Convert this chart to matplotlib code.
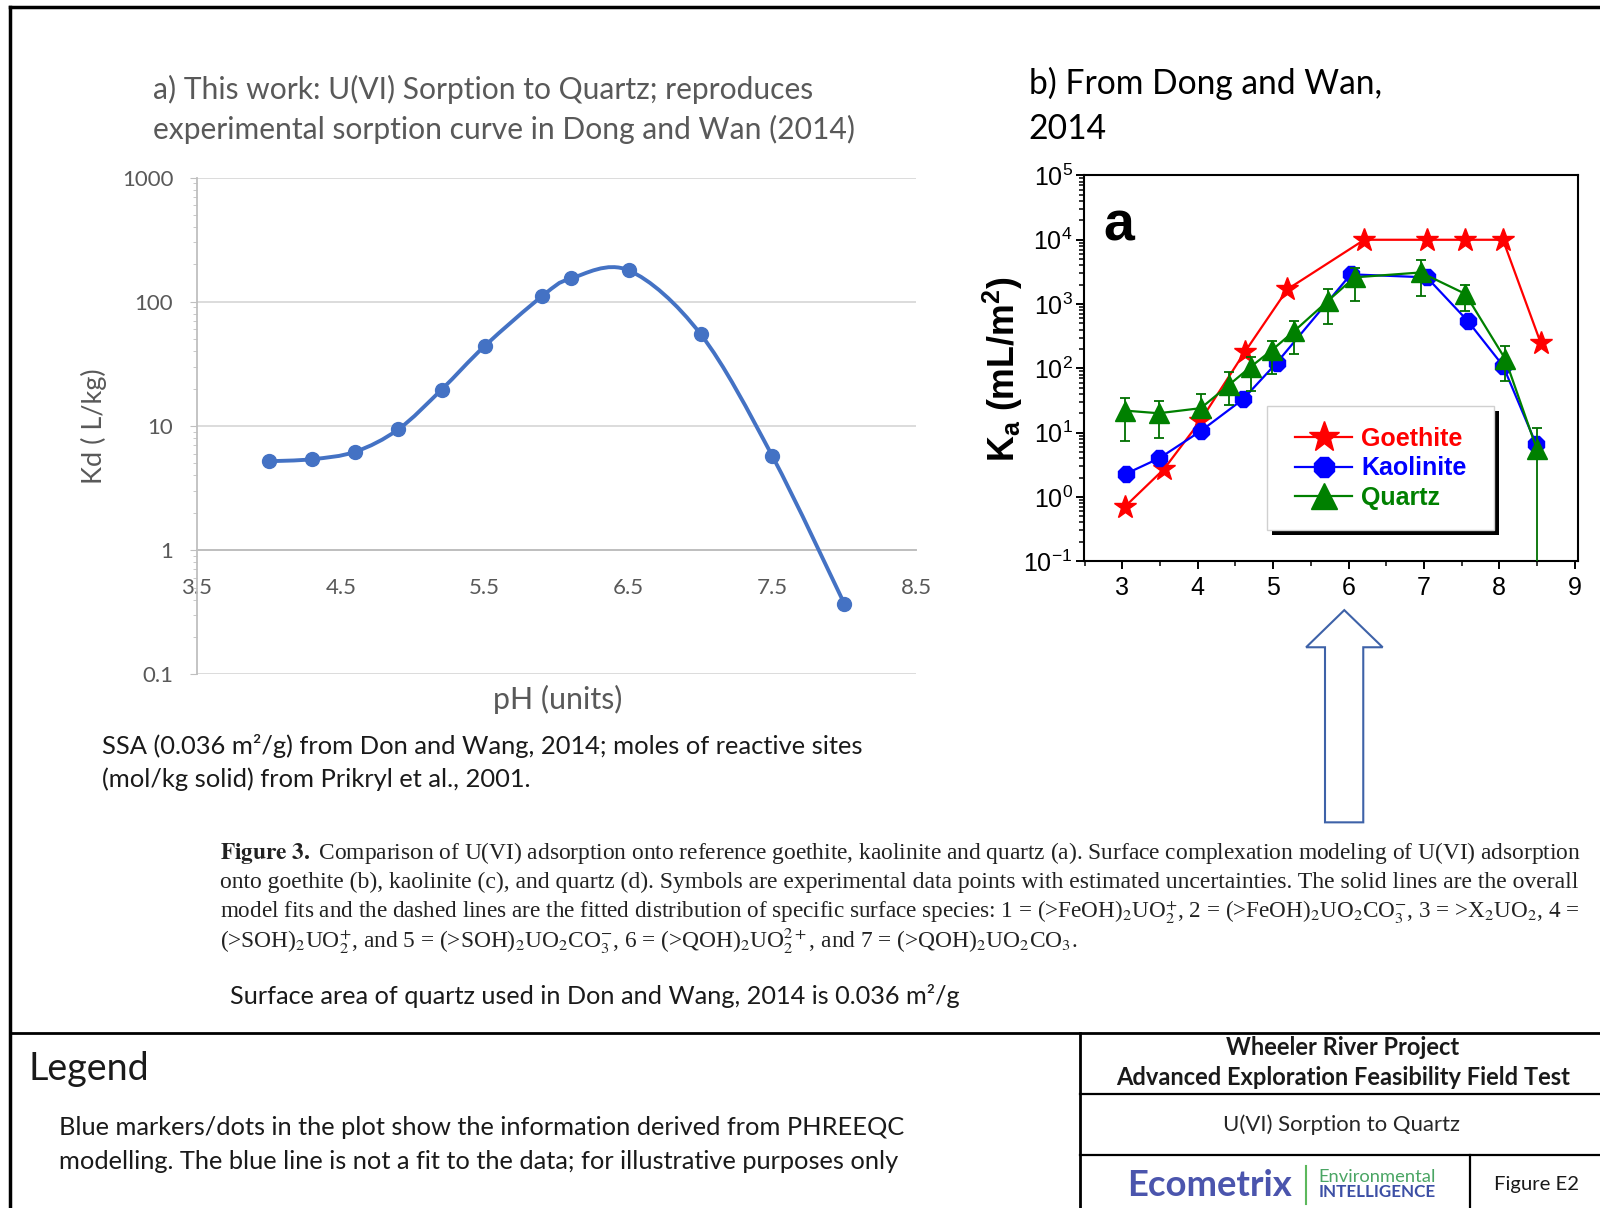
import numpy as np
import matplotlib
matplotlib.use("Agg")
import matplotlib.pyplot as plt
from matplotlib.patches import Polygon, Rectangle, PathPatch
from matplotlib.path import Path
from matplotlib.lines import Line2D
import matplotlib.ticker as mticker

plt.rcParams['mathtext.fontset'] = 'custom'
plt.rcParams['mathtext.rm'] = 'Liberation Sans'
plt.rcParams['mathtext.it'] = 'Liberation Sans:italic'
plt.rcParams['mathtext.bf'] = 'Liberation Sans:bold'

# ---------------- data ----------------
# panel a : PHREEQC model results (this work)
ph_model = [4.0, 4.3, 4.6, 4.9, 5.2, 5.5, 5.9, 6.1, 6.5, 7.0, 7.5, 8.0]
kd_model = [5.2, 5.4, 6.2, 9.4, 19.6, 44, 111, 154, 179, 55, 5.7, 0.37]
a_xticks = [3.5, 4.5, 5.5, 6.5, 7.5, 8.5]
a_xticklabels = ['3.5', '4.5', '5.5', '6.5', '7.5', '8.5']
a_yticks = [0.1, 1, 10, 100, 1000]
a_yticklabels = ['0.1', '1', '10', '100', '1000']

# panel b : Dong and Wan (2014)
ph_goe = [3.03, 3.55, 4.03, 4.62, 5.19, 6.21, 7.04, 7.55, 8.05, 8.55]
ka_goe = [0.7, 2.7, 15, 177, 1700, 1.0e4, 1.0e4, 1.0e4, 1.0e4, 250]
ph_kao = [3.05, 3.49, 4.04, 4.60, 5.05, 6.03, 7.04, 7.58, 8.05, 8.49]
ka_kao = [2.3, 4.0, 10.6, 33, 123, 2900, 2600, 550, 110, 6.6]
ph_qtz = [3.03, 3.48, 4.04, 4.42, 4.70, 4.99, 5.28, 5.73, 6.08, 6.96, 7.55, 8.08, 8.50]
ka_qtz = [22, 20, 24, 56, 105, 195, 380, 1130, 2600, 3100, 1440, 140, 5.5]
qtz_hi = [35, 31, 40, 87, 148, 270, 550, 1700, 3700, 4800, 2000, 225, 12]
qtz_lo = [7.4, 8.3, 17, 27, 45, 81, 165, 490, 1120, 1350, 790, 64, 1e-3]
b_xticks = [3, 4, 5, 6, 7, 8, 9]
b_yticks = [1e-1, 1e0, 1e1, 1e2, 1e3, 1e4, 1e5]
legend_labels = ['Goethite', 'Kaolinite', 'Quartz']

# ---------------- layout helpers ----------------
W, H = 1600, 1208
RW, RH = 1568, 1184


def fx(x):
    return x / RW


def fy(y):
    return 1 - y / RH


fig = plt.figure(figsize=(16, 12.08), dpi=100)
fig.patch.set_facecolor('white')
renderer = fig.canvas.get_renderer()

SANS = 'Lato'


def put(x, y, s, w=None, h=None, ha='left', va='center', **kw):
    t = fig.text(fx(x), fy(y), s, ha=ha, va=va, **kw)
    if w is not None or h is not None:
        bb = t.get_window_extent(renderer)
        if w is not None:
            t.set_fontsize(t.get_fontsize() * (w * W / RW) / bb.width)
        else:
            t.set_fontsize(t.get_fontsize() * (h * H / RH) / bb.height)
    return t


def fline(xs, ys, color='black', lw=2.0, **kw):
    fig.add_artist(Line2D([fx(v) for v in xs], [fy(v) for v in ys],
                          transform=fig.transFigure, color=color, lw=lw,
                          solid_capstyle='projecting', **kw))


GRAY = '#595959'

# ---------------- panel a ----------------
axA = fig.add_axes([fx(193), fy(661), (898 - 193) / RW, (661 - 174) / RH])
axA.set_yscale('log')
axA.set_xlim(3.5, 8.5)
axA.set_ylim(0.1, 1000)
for v in a_yticks:
    axA.axhline(v, color='#d9d9d9', lw=1.3, zorder=0)
for sp in ['top', 'right']:
    axA.spines[sp].set_visible(False)
axA.spines['bottom'].set_position(('data', 1))
axA.spines['bottom'].set_color('#bfbfbf')
axA.spines['bottom'].set_linewidth(1.4)
axA.spines['left'].set_color('#bfbfbf')
axA.spines['left'].set_linewidth(1.3)
axA.set_xticks(a_xticks)
axA.set_xticklabels(a_xticklabels, family=SANS)
axA.tick_params(axis='x', length=0, pad=20, labelsize=16, labelcolor=GRAY)
axA.set_yticks(a_yticks)
axA.set_yticklabels(a_yticklabels, family=SANS)
axA.yaxis.set_minor_locator(mticker.LogLocator(base=10, subs=np.arange(2, 10)))
axA.yaxis.set_minor_formatter(mticker.NullFormatter())
axA.tick_params(axis='y', which='major', length=5, color='#bfbfbf', labelsize=16,
                labelcolor=GRAY, pad=12)
axA.tick_params(axis='y', which='minor', length=3, color='#bfbfbf')

# Excel-style smoothed line: cubic Bezier through the points (display space)
pts = axA.transData.transform(np.column_stack([ph_model, kd_model]))
n = len(pts)
verts = [pts[0]]
codes = [Path.MOVETO]
for i in range(n - 1):
    p0 = pts[max(i - 1, 0)]
    p1 = pts[i]
    p2 = pts[i + 1]
    p3 = pts[min(i + 2, n - 1)]
    c1 = p1 + (p2 - p0) / 6.0
    c2 = p2 - (p3 - p1) / 6.0
    verts += [c1, c2, p2]
    codes += [Path.CURVE4] * 3
verts = axA.transData.inverted().transform(np.array(verts))
axA.add_patch(PathPatch(Path(verts, codes), fill=False, ec='#4472C4', lw=2.8,
                        zorder=3, capstyle='round'))
axA.plot(ph_model, kd_model, 'o', color='#4472C4', ms=10, zorder=4, clip_on=False)

# ---------------- panel b ----------------
axB = fig.add_axes([fx(1062), fy(550), (1546 - 1062) / RW, (550 - 172) / RH])
axB.set_yscale('log')
axB.set_xlim(2.485, 9.04)
axB.set_ylim(1e-1, 1e5)
lg, = axB.plot(ph_goe, ka_goe, '-', color='#ff0000', marker='*', ms=17, lw=1.6, zorder=3)
lk, = axB.plot(ph_kao, ka_kao, '-', color='#0000ff', marker='8', ms=12, lw=1.6, zorder=3)
yerr = [np.array(ka_qtz) - np.array(qtz_lo), np.array(qtz_hi) - np.array(ka_qtz)]
eb = axB.errorbar(ph_qtz, ka_qtz, yerr=yerr, color='#008000', marker='^', ms=14, lw=1.6,
                  ecolor='#007000', elinewidth=1.3, capsize=3.5, capthick=1.3, zorder=3)
for sp in axB.spines.values():
    sp.set_linewidth(1.5)
    sp.set_color('black')
axB.set_xticks(b_xticks)
axB.xaxis.set_minor_locator(mticker.MultipleLocator(0.5))
axB.yaxis.set_major_locator(mticker.FixedLocator(b_yticks))
axB.yaxis.set_minor_locator(mticker.LogLocator(base=10, subs=np.arange(2, 10)))
axB.yaxis.set_minor_formatter(mticker.NullFormatter())
axB.yaxis.set_major_formatter(mticker.FuncFormatter(
    lambda v, p: r'10$^{%d}$' % int(round(np.log10(v)))))
axB.tick_params(which='major', direction='out', length=6, width=1.4, labelsize=18,
                top=False, right=False)
axB.tick_params(which='minor', direction='out', length=3.5, width=1.1, top=False, right=False)
axB.tick_params(axis='x', pad=5)
axB.tick_params(axis='y', pad=2)
for lab in axB.get_xticklabels() + axB.get_yticklabels():
    lab.set_family('Liberation Sans')
axB.text(0.072, 0.868, 'a', transform=axB.transAxes, fontsize=40, fontweight='bold',
         family='Liberation Sans', ha='center', va='center')

# legend box with black drop shadow
axB.add_patch(Rectangle((fx(1247), fy(524)), (1469 - 1247) / RW, (524 - 403) / RH,
                        transform=fig.transFigure, facecolor='black', edgecolor='none',
                        clip_on=False, zorder=5))
axB.add_patch(Rectangle((fx(1242), fy(519)), (1464 - 1242) / RW, (519 - 398) / RH,
                        transform=fig.transFigure, facecolor='white', edgecolor='#d0d0d0',
                        lw=1.0, clip_on=False, zorder=5.1))
leg = axB.legend([lg, lk, eb[0]], legend_labels, loc='center',
                 bbox_to_anchor=(fx(1353), fy(459)), bbox_transform=fig.transFigure,
                 frameon=False, prop={'family': 'Liberation Sans', 'weight': 'bold', 'size': 18},
                 handlelength=2.3, handletextpad=0.35, labelspacing=0.22,
                 markerscale=1.35, borderpad=0)
leg.set_zorder(6)
for txt, c in zip(leg.get_texts(), ['#ff0000', '#0000ff', '#008000']):
    txt.set_color(c)

# ---------------- texts ----------------
t = put(150, 88, 'a) This work: U(VI) Sorption to Quartz; reproduces', w=648, color=GRAY,
        family=SANS)
put(150, 127, 'experimental sorption curve in Dong and Wan (2014)', color=GRAY, family=SANS,
    fontsize=t.get_fontsize())
t = put(1008, 82, 'b) From Dong and Wan,', w=346, color='black', family=SANS)
put(1008, 126, '2014', color='black', family=SANS, fontsize=t.get_fontsize())

put(92, 418, 'Kd ( L/kg)', h=113, rotation=90, ha='center', color=GRAY, family=SANS)
put(547, 686, 'pH (units)', w=127, ha='center', color=GRAY, family=SANS)
put(983, 362, r'K$_{\mathbf{a}}$ (mL/m$^{\mathbf{2}}$)', h=185, rotation=90, ha='center',
    fontweight='bold', family='Liberation Sans', color='black')

t = put(100, 731, 'SSA (0.036 m²/g) from Don and Wang, 2014; moles of reactive sites',
        w=744, color='#1a1a1a', family=SANS)
put(100, 764, '(mol/kg solid) from Prikryl et al., 2001.', color='#1a1a1a', family=SANS,
    fontsize=t.get_fontsize())

cap_lines = [
    r'$\mathbf{Figure\ 3.}$ Comparison of U(VI) adsorption onto reference goethite, kaolinite and quartz (a). Surface complexation modeling of U(VI) adsorption',
    r'onto goethite (b), kaolinite (c), and quartz (d). Symbols are experimental data points with estimated uncertainties. The solid lines are the overall',
    r'model fits and the dashed lines are the fitted distribution of specific surface species: 1 = (>FeOH)$_2$UO$_2^{+}$, 2 = (>FeOH)$_2$UO$_2$CO$_3^{-}$, 3 = >X$_2$UO$_2$, 4 =',
    r'(>SOH)$_2$UO$_2^{+}$, and 5 = (>SOH)$_2$UO$_2$CO$_3^{-}$, 6 = (>QOH)$_2$UO$_2^{2+}$, and 7 = (>QOH)$_2$UO$_2$CO$_3$.',
]
cap_y = [836, 865, 894, 922]
sizes = []
for s, y in zip(cap_lines[:3], cap_y[:3]):
    tt = put(216, y, s, w=1334, color='#222222', family='Liberation Serif', math_fontfamily='stix')
    sizes.append(tt.get_fontsize())
put(216, cap_y[3], cap_lines[3], color='#222222', family='Liberation Serif',
    math_fontfamily='stix', fontsize=float(np.mean(sizes)))

put(225, 976, 'Surface area of quartz used in Don and Wang, 2014 is 0.036 m²/g', w=715,
    color='#1a1a1a', family=SANS)

put(28, 1048, 'Legend', w=118, color='#1a1a1a', family=SANS)
t = put(58, 1105, 'Blue markers/dots in the plot show the information derived from PHREEQC',
        w=829, color='#1a1a1a', family=SANS)
put(58, 1138, 'modelling. The blue line is not a fit to the data; for illustrative purposes only',
    color='#1a1a1a', family=SANS, fontsize=t.get_fontsize())

t = put(1316, 1056, 'Advanced Exploration Feasibility Field Test', w=445, ha='center',
        fontweight='bold', color='#1a1a1a', family=SANS)
put(1316, 1027, 'Wheeler River Project', ha='center', fontweight='bold', color='#1a1a1a',
    family=SANS, fontsize=t.get_fontsize())
put(1315, 1102, 'U(VI) Sorption to Quartz', w=232, ha='center', color='#262626', family=SANS)
put(1506, 1161, 'Figure E2', w=83, ha='center', color='#1a1a1a', family=SANS)
put(1105, 1162, 'Ecometrix', w=162, fontweight='bold', color='#4b55ad', family=SANS)
put(1292, 1154, 'Environmental', w=115, color='#4aa564', family=SANS)
put(1292, 1168, 'INTELLIGENCE', w=115, fontweight='bold', color='#3c4fa5', family=SANS)

# ---------------- frame lines ----------------
fline([10, 1568], [7, 7], lw=2.5)
fline([10, 10], [7, 1184], lw=2.5)
fline([10, 1568], [1012, 1012], lw=2.0)
fline([1058, 1058], [1012, 1184], lw=2.0)
fline([1058, 1568], [1072, 1072], lw=1.6)
fline([1058, 1568], [1132, 1132], lw=1.6)
fline([1441, 1441], [1132, 1184], lw=1.6)
fline([1280, 1280], [1143, 1180], color='#5cb85c', lw=1.5)

# hollow up arrow
arrow_pts = [(1298.5, 806), (1336, 806), (1336, 634.4), (1355, 634.4), (1317.4, 598),
             (1280, 634.4), (1298.5, 634.4)]
fig.add_artist(Polygon([(fx(x), fy(y)) for x, y in arrow_pts], closed=True,
                       transform=fig.transFigure, facecolor='white', edgecolor='#3e62a8',
                       lw=1.5))

fig.savefig('out.png', dpi=100)
